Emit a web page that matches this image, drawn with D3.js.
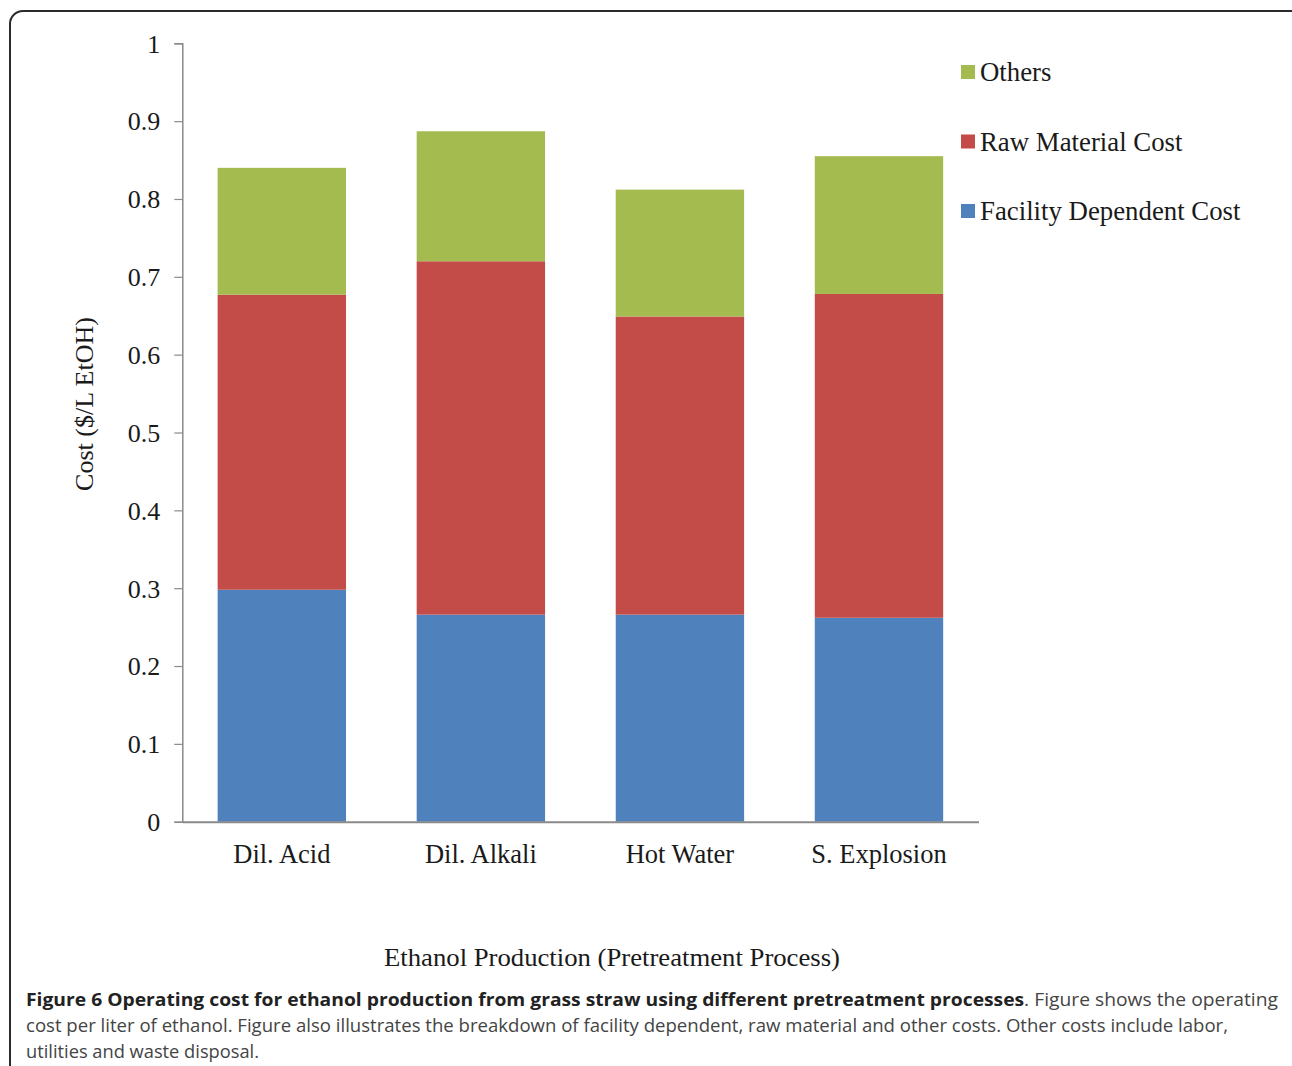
<!DOCTYPE html>
<html>
<head>
<meta charset="utf-8">
<script src="https://cdn.jsdelivr.net/npm/d3@7"></script>
<style>
  html, body { margin: 0; padding: 0; background: #fff; }
  svg { display: block; }
</style>
</head>
<body>
<svg id="chart" width="1292" height="1066"></svg>
<script>
// Pretreatment processes and their operating cost breakdown ($/L EtOH)
const categories = ["Dil. Acid", "Dil. Alkali", "Hot Water", "S. Explosion"];
const facilityCost = [0.298, 0.266, 0.266, 0.262];
const rawMaterialCost = [0.379, 0.454, 0.383, 0.416];
const othersCost = [0.163, 0.167, 0.163, 0.177];
const yTicks = [0, 0.1, 0.2, 0.3, 0.4, 0.5, 0.6, 0.7, 0.8, 0.9, 1];

const seriesNames = ["Facility Dependent Cost", "Raw Material Cost", "Others"];
const seriesKeys = ["facility", "raw", "others"];
const colors = { facility: "#4F81BD", raw: "#C34B48", others: "#A4BB4F" };

const rows = categories.map((c, i) => ({
  category: c,
  facility: facilityCost[i],
  raw: rawMaterialCost[i],
  others: othersCost[i]
}));

const svg = d3.select("#chart");
const serif = "'Liberation Serif', 'Times New Roman', serif";

// Rounded frame around the figure
svg.append("rect")
  .attr("x", 10).attr("y", 11)
  .attr("width", 1300).attr("height", 1120)
  .attr("rx", 13).attr("ry", 13)
  .attr("fill", "none")
  .attr("stroke", "#2b2b2b")
  .attr("stroke-width", 2);

const plot = { left: 182.3, right: 978.5, top: 43.3, bottom: 821.7 };

const x = d3.scaleBand()
  .domain(categories)
  .range([plot.left, plot.right])
  .paddingInner(0.355)
  .paddingOuter(0.1775);

const y = d3.scaleLinear()
  .domain([0, 1])
  .range([plot.bottom, plot.top]);

const stack = d3.stack().keys(seriesKeys);
const stacked = stack(rows);

// Stacked bars
svg.append("g")
  .selectAll("g")
  .data(stacked)
  .join("g")
  .attr("fill", d => colors[d.key])
  .selectAll("rect")
  .data(d => d)
  .join("rect")
  .attr("x", d => x(d.data.category))
  .attr("width", x.bandwidth())
  .attr("y", d => y(d[1]))
  .attr("height", d => y(d[0]) - y(d[1]));

// Y axis
const yAxis = svg.append("g")
  .attr("transform", `translate(${plot.left},0)`)
  .call(d3.axisLeft(y).tickValues(yTicks).tickFormat(d => d === 0 ? "0" : d === 1 ? "1" : d3.format(".1f")(d)).tickSizeOuter(0).tickSize(8).tickPadding(14));
yAxis.select(".domain").attr("stroke", "#8a8a8a").attr("stroke-width", 1.5);
yAxis.selectAll(".tick line").attr("stroke", "#8a8a8a").attr("stroke-width", 1.2);
yAxis.selectAll(".tick text")
  .attr("font-family", serif)
  .attr("font-size", 26)
  .attr("fill", "#1a1a1a")
  .attr("dy", "0.34em");

// X axis
const xAxis = svg.append("g")
  .attr("transform", `translate(0,${plot.bottom})`)
  .call(d3.axisBottom(x).tickSize(0).tickSizeOuter(0).tickPadding(22));
xAxis.select(".domain").attr("stroke", "#8a8a8a").attr("stroke-width", 2);
xAxis.selectAll(".tick text")
  .attr("font-family", serif)
  .attr("font-size", 26.5)
  .attr("fill", "#1a1a1a");

// Axis titles
svg.append("text")
  .attr("transform", "translate(93,404) rotate(-90)")
  .attr("text-anchor", "middle")
  .attr("font-family", serif)
  .attr("font-size", 26)
  .attr("fill", "#1a1a1a")
  .text("Cost ($/L EtOH)");

svg.append("text")
  .attr("x", 612).attr("y", 966)
  .attr("text-anchor", "middle")
  .attr("font-family", serif)
  .attr("font-size", 26)
  .attr("fill", "#1a1a1a")
  .attr("textLength", 456)
  .attr("lengthAdjust", "spacingAndGlyphs")
  .text("Ethanol Production (Pretreatment Process)");

// Legend (top-down order: Others, Raw Material, Facility)
const legendItems = seriesKeys.map((k, i) => ({ key: k, name: seriesNames[i] })).reverse();
const legend = svg.append("g")
  .selectAll("g")
  .data(legendItems)
  .join("g")
  .attr("transform", (d, i) => `translate(961,${72 + i * 69.5})`);
legend.append("rect")
  .attr("x", 0).attr("y", -7)
  .attr("width", 14).attr("height", 14)
  .attr("fill", d => colors[d.key]);
legend.append("text")
  .attr("x", 19).attr("y", 0)
  .attr("dy", "0.34em")
  .attr("font-family", serif)
  .attr("font-size", 26.8)
  .attr("fill", "#1a1a1a")
  .text(d => d.name);

// Figure caption
const captionFont = "'Open Sans', 'Noto Sans', sans-serif";
const cap1 = svg.append("text")
  .attr("x", 26).attr("y", 1006)
  .attr("font-family", captionFont)
  .attr("font-size", 18.5)
  .attr("fill", "#222")
  .attr("textLength", 1252)
  .attr("lengthAdjust", "spacingAndGlyphs");
cap1.append("tspan").attr("font-weight", "bold")
  .text("Figure 6 Operating cost for ethanol production from grass straw using different pretreatment processes");
cap1.append("tspan").attr("fill", "#444")
  .text(". Figure shows the operating");

svg.append("text")
  .attr("x", 26).attr("y", 1032)
  .attr("font-family", captionFont)
  .attr("font-size", 18.5)
  .attr("fill", "#444")
  .attr("textLength", 1202)
  .attr("lengthAdjust", "spacingAndGlyphs")
  .text("cost per liter of ethanol. Figure also illustrates the breakdown of facility dependent, raw material and other costs. Other costs include labor,");

svg.append("text")
  .attr("x", 26).attr("y", 1058)
  .attr("font-family", captionFont)
  .attr("font-size", 18.5)
  .attr("fill", "#444")
  .attr("textLength", 233)
  .attr("lengthAdjust", "spacingAndGlyphs")
  .text("utilities and waste disposal.");
</script>
</body>
</html>
